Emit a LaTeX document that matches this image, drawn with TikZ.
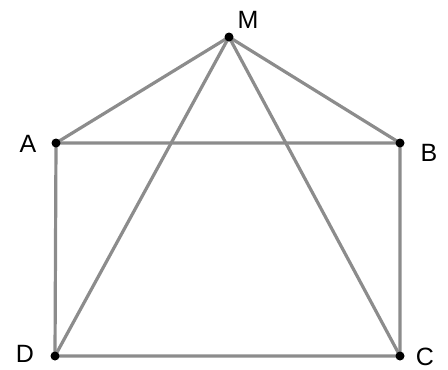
\documentclass[tikz,border=0pt]{standalone}
\usepackage{fontspec}
\setmainfont{Liberation Sans}
\usetikzlibrary{positioning}
\definecolor{edgegray}{RGB}{140,140,140}
\tikzset{
  edge/.style={draw=edgegray, line width=3.2pt, line cap=round},
  dot/.style={circle, fill=black, inner sep=0pt, minimum size=9pt},
  lbl/.style={font=\fontsize{25}{28}\selectfont, inner sep=0pt}
}
\begin{document}
\begin{tikzpicture}[x=1pt, y=-1pt]
  \useasboundingbox (0,0) rectangle (448,370);

  \coordinate (M) at (229,37);
  \coordinate (A) at (56,143);
  \coordinate (B) at (400,143);
  \coordinate (D) at (55,356);
  \coordinate (C) at (400,356);

  \draw [edge] (A) -- (B) -- (C) -- (D) -- cycle;
  \draw [edge] (M) -- (A);
  \draw [edge] (M) -- (B);
  \draw [edge] (M) -- (C);
  \draw [edge] (M) -- (D);

  \node (dM) [dot] at (M) {};
  \node (dA) [dot] at (A) {};
  \node (dB) [dot] at (B) {};
  \node (dC) [dot] at (C) {};
  \node (dD) [dot] at (D) {};

  \node (lM) [lbl] at (248,20) {M};
  \node (lA) [lbl] at (28,144) {A};
  \node (lB) [lbl] at (429,153) {B};
  \node (lD) [lbl] at (25,354) {D};
  \node (lC) [lbl] at (425,357) {C};
\end{tikzpicture}
\end{document}
